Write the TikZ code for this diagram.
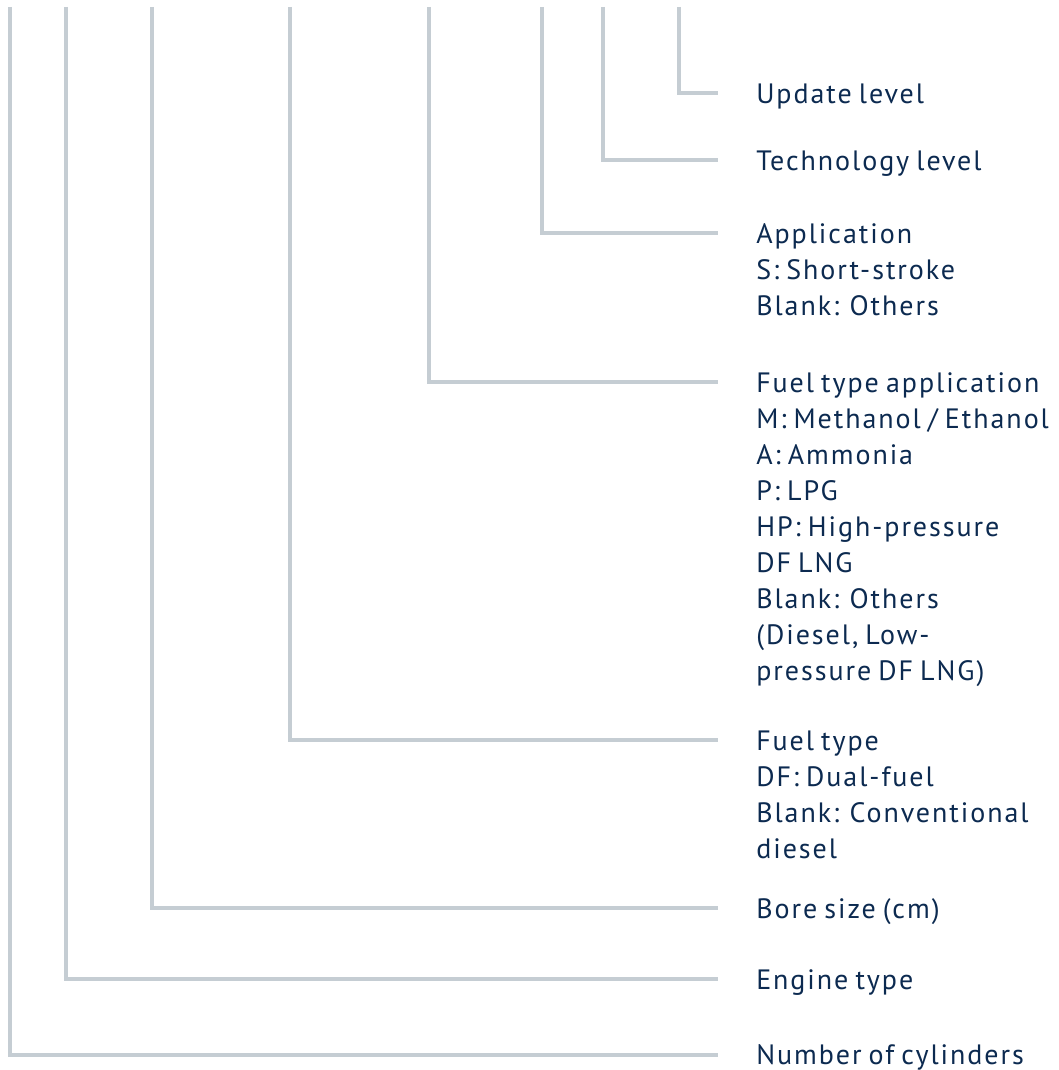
\documentclass[tikz,border=0pt]{standalone}
\usepackage{fontspec}
\setmainfont{PT Sans}[LetterSpace=7, WordSpace=0.75]
\usepackage{tikz}
\usetikzlibrary{calc}
\definecolor{leadgray}{HTML}{C5CDD3}
\definecolor{navy}{HTML}{0C2A50}
\newcommand{\labelfont}{\fontsize{21pt}{27pt}\selectfont}

\begin{document}
\begin{tikzpicture}[
    x=0.75pt, y=-0.75pt,
    lead/.style={draw=leadgray, line width=2.4pt},
    lbl/.style={anchor=north west, align=left, inner sep=0pt, text=navy, font=\labelfont}
]
    \useasboundingbox (0,0) rectangle (1058,1070);

    % top of each lead line and where it stops short of its label
    \foreach \name/\x/\y in {upd/679/93, tech/603/160, appl/542/233, fapp/429/382,
                             fuel/290/740, bore/152/908, eng/66/979, cyl/10/1055} {
        \coordinate (\name-top) at (\x,7);
        \coordinate (\name-end) at (718,\y);
    }

    \node[lbl] (upd)  at ($(upd-end)+(38,-15.2)$)  {\strut Update level};
    \node[lbl] (tech) at ($(tech-end)+(38,-15.2)$) {\strut Technology level};
    \node[lbl] (appl) at ($(appl-end)+(38,-15.2)$) {\strut Application\\S: Short-stroke\\Blank: Others};
    \node[lbl] (fapp) at ($(fapp-end)+(38,-15.2)$) {\strut Fuel type application\\M: Methanol / Ethanol\\A: Ammonia\\P: LPG\\HP: High-pressure\\DF LNG\\Blank: Others\\(Diesel, Low-\\pressure DF LNG)};
    \node[lbl] (fuel) at ($(fuel-end)+(38,-15.2)$) {\strut Fuel type\\DF: Dual-fuel\\Blank: Conventional\\diesel};
    \node[lbl] (bore) at ($(bore-end)+(38,-15.2)$) {\strut Bore size (cm)};
    \node[lbl] (eng)  at ($(eng-end)+(38,-15.2)$)  {\strut Engine type};
    \node[lbl] (cyl)  at ($(cyl-end)+(38,-16.2)$)  {\strut Number of cylinders};

    \foreach \name in {upd, tech, appl, fapp, fuel, bore, eng, cyl}
        \draw[lead] (\name-top) |- (\name-end);
\end{tikzpicture}
\end{document}
